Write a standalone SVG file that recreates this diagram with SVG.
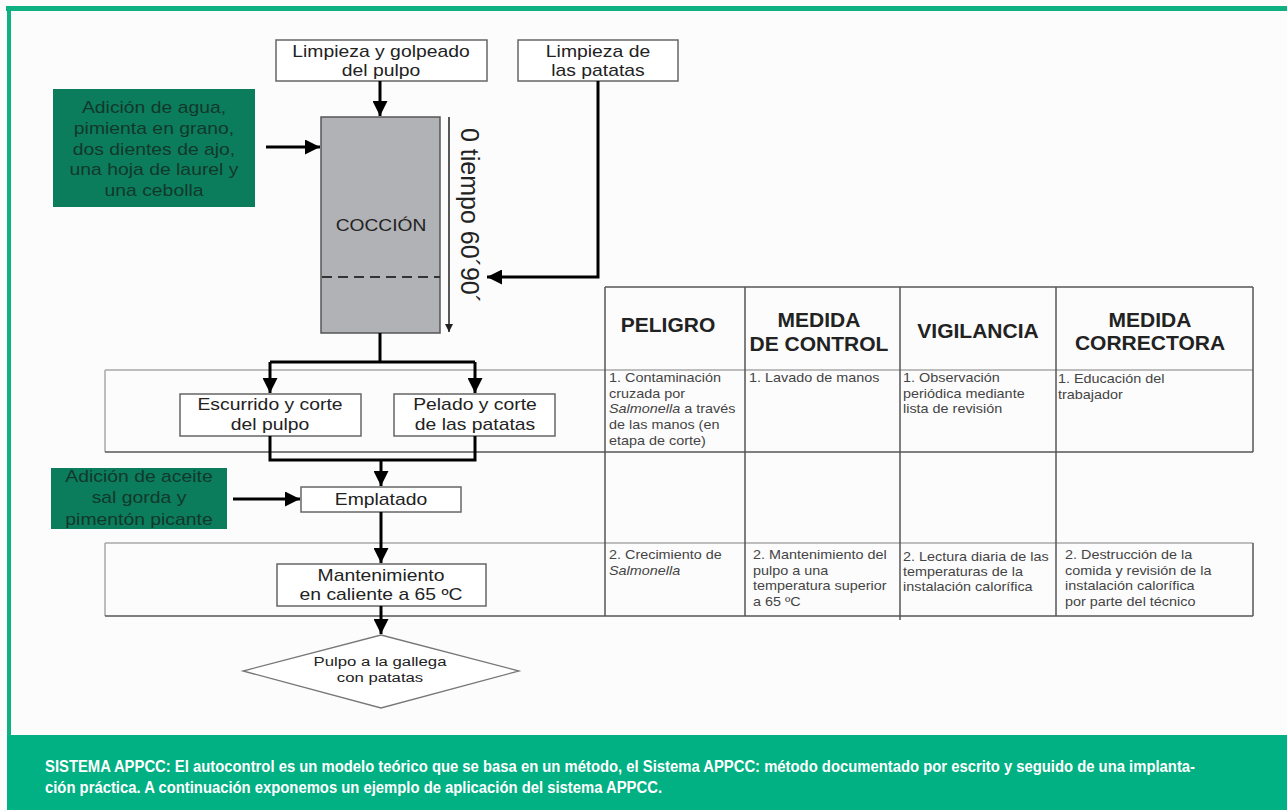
<svg xmlns="http://www.w3.org/2000/svg" width="1287" height="810" viewBox="0 0 1287 810">
<defs>
<style>
.f{font-family:"Liberation Sans",Arial,sans-serif}
.fl{font-size:16px;fill:#222;text-anchor:middle}
.gr{font-size:16px;fill:#12382b;text-anchor:middle}
.hd{font-size:21px;font-weight:bold;fill:#222;text-anchor:middle}
.bd{font-size:12px;fill:#444}
.box{fill:#fff;stroke:#666;stroke-width:1.5}
.gbox{fill:#0b7d5c}
.band{fill:none;stroke:#a8a8a8;stroke-width:1.5}
.tl{fill:none;stroke:#555;stroke-width:1.5}
.con{fill:none;stroke:#000;stroke-width:3}
.cap{font-family:"Liberation Sans Narrow","Liberation Sans",Arial,sans-serif;font-size:16px;font-weight:bold;fill:#fff}
</style>
<marker id="ah" viewBox="0 0 10 10" refX="10" refY="5" markerWidth="16" markerHeight="15" markerUnits="userSpaceOnUse" orient="auto"><path d="M0,0 L10,5 L0,10 Z" fill="#000"/></marker>
<marker id="ahs" viewBox="0 0 10 10" refX="10" refY="5" markerWidth="10" markerHeight="8" markerUnits="userSpaceOnUse" orient="auto"><path d="M0,0 L10,5 L0,10 Z" fill="#222"/></marker>
</defs>
<rect x="0" y="0" width="1287" height="810" fill="#fcfcfc"/>
<rect x="6" y="6" width="1281" height="5" fill="#0fb182"/>
<rect x="7" y="6" width="4" height="730" fill="#0fb182"/>
<rect x="7" y="735" width="1280" height="75" fill="#01b083"/>

<g id="table">
<path class="band" d="M105,370 H1253 M105,543 H1253 M105,370 V452 M105,543 V616"/>
<path class="tl" d="M605,287 H1253 M105,452 H1253 M105,616 H1253 M605,287 V616 M745,287 V616 M900,287 V620 M1056,287 V616 M1253,287 V452 M1253,543 V616"/>
<text class="f hd" x="668" y="332">PELIGRO</text>
<text class="f hd" x="819" y="327">MEDIDA</text>
<text class="f hd" x="819" y="351">DE CONTROL</text>
<text class="f hd" x="978" y="338">VIGILANCIA</text>
<text class="f hd" x="1150" y="327">MEDIDA</text>
<text class="f hd" x="1150" y="350">CORRECTORA</text>
<text class="f bd" transform="translate(609,382) scale(1.2,1)"><tspan x="0" y="0">1. Contaminación</tspan><tspan x="0" y="15.7">cruzada por</tspan><tspan x="0" y="31.4"><tspan font-style="italic">Salmonella</tspan> a través</tspan><tspan x="0" y="47.1">de las manos (en</tspan><tspan x="0" y="62.8">etapa de corte)</tspan></text>
<text class="f bd" transform="translate(749,382) scale(1.2,1)">1. Lavado de manos</text>
<text class="f bd" transform="translate(903,382) scale(1.2,1)"><tspan x="0" y="0">1. Observación</tspan><tspan x="0" y="15.7">periódica mediante</tspan><tspan x="0" y="31.4">lista de revisión</tspan></text>
<text class="f bd" transform="translate(1058,383) scale(1.2,1)"><tspan x="0" y="0">1. Educación del</tspan><tspan x="0" y="15.7">trabajador</tspan></text>
<text class="f bd" transform="translate(609,559) scale(1.2,1)"><tspan x="0" y="0">2. Crecimiento de</tspan><tspan x="0" y="15.7" font-style="italic">Salmonella</tspan></text>
<text class="f bd" transform="translate(753,559) scale(1.2,1)"><tspan x="0" y="0">2. Mantenimiento del</tspan><tspan x="0" y="15.7">pulpo a una</tspan><tspan x="0" y="31.4">temperatura superior</tspan><tspan x="0" y="47.1">a 65 ºC</tspan></text>
<text class="f bd" transform="translate(903,561) scale(1.2,1)"><tspan x="0" y="0">2. Lectura diaria de las</tspan><tspan x="0" y="15.2">temperaturas de la</tspan><tspan x="0" y="30.4">instalación calorífica</tspan></text>
<text class="f bd" transform="translate(1065,559) scale(1.2,1)"><tspan x="0" y="0">2. Destrucción de la</tspan><tspan x="0" y="15.7">comida y revisión de la</tspan><tspan x="0" y="31.4">instalación calorífica</tspan><tspan x="0" y="47.1">por parte del técnico</tspan></text>
</g>

<g id="n-limpieza-pulpo">
<rect class="box" x="276" y="40" width="211" height="41"/>
<text class="f fl" transform="translate(381,57) scale(1.21,1)"><tspan x="0" y="0">Limpieza y golpeado</tspan><tspan x="0" y="19">del pulpo</tspan></text>
</g>
<g id="n-limpieza-patatas">
<rect class="box" x="518" y="40" width="160" height="41"/>
<text class="f fl" transform="translate(598,57) scale(1.21,1)"><tspan x="0" y="0">Limpieza de</tspan><tspan x="0" y="19">las  patatas</tspan></text>
</g>
<g id="n-adicion-agua">
<rect class="gbox" x="53" y="89" width="202" height="118"/>
<text class="f gr" transform="translate(154,113) scale(1.21,1)"><tspan x="0" y="0">Adición de agua,</tspan><tspan x="0" y="20.8">pimienta en grano,</tspan><tspan x="0" y="41.6">dos dientes de ajo,</tspan><tspan x="0" y="62.4">una hoja de laurel y</tspan><tspan x="0" y="83.2">una cebolla</tspan></text>
</g>
<g id="n-coccion">
<rect x="321" y="117" width="119" height="216" fill="#b1b2b6" stroke="#555" stroke-width="1.5"/>
<line x1="322" y1="277" x2="440" y2="277" stroke="#333" stroke-width="2" stroke-dasharray="10 6"/>
<text class="f fl" fill="#333" transform="translate(381,231) scale(1.2,1)">COCCIÓN</text>
<text class="f" font-size="25" fill="#222" transform="translate(461,128) rotate(90)">0 tiempo 60´90´</text>
</g>
<g id="n-escurrido">
<rect class="box" x="180" y="394" width="181" height="42"/>
<text class="f fl" transform="translate(270,410) scale(1.21,1)"><tspan x="0" y="0">Escurrido y corte</tspan><tspan x="0" y="20">del pulpo</tspan></text>
</g>
<g id="n-pelado">
<rect class="box" x="394" y="394" width="161" height="42"/>
<text class="f fl" transform="translate(475,410) scale(1.21,1)"><tspan x="0" y="0">Pelado y corte</tspan><tspan x="0" y="20">de las patatas</tspan></text>
</g>
<g id="n-adicion-aceite">
<rect class="gbox" x="51" y="468" width="176" height="61"/>
<text class="f gr" transform="translate(139,482) scale(1.21,1)"><tspan x="0" y="0">Adición de aceite</tspan><tspan x="0" y="21.5">sal gorda y</tspan><tspan x="0" y="43">pimentón picante</tspan></text>
</g>
<g id="n-emplatado">
<rect class="box" x="301" y="487" width="160" height="25"/>
<text class="f fl" transform="translate(381,505) scale(1.21,1)">Emplatado</text>
</g>
<g id="n-mantenimiento">
<rect class="box" x="277" y="564" width="209" height="42"/>
<text class="f fl" transform="translate(381,581) scale(1.21,1)"><tspan x="0" y="0">Mantenimiento</tspan><tspan x="0" y="19">en caliente a 65 ºC</tspan></text>
</g>
<g id="n-pulpo-final">
<polygon points="381,635 519,671 381,708 243,671" fill="#fff" stroke="#777" stroke-width="1.3"/>
<text class="f fl" fill="#333" style="font-size:13.5px" transform="translate(380,666) scale(1.24,1)"><tspan x="0" y="0">Pulpo a la gallega</tspan><tspan x="0" y="16">con patatas</tspan></text>
</g>

<g id="connectors">
<path class="con" d="M380,81 V116" marker-end="url(#ah)"/>
<path class="con" d="M266,147 H320" marker-end="url(#ah)"/>
<path class="con" d="M598,81 V277 H487" marker-end="url(#ah)"/>
<path d="M449,117 V332" fill="none" stroke="#222" stroke-width="1.5" marker-end="url(#ahs)"/>
<path class="con" d="M380,333 V362 M270,362 H475"/>
<path class="con" d="M270,362 V393" marker-end="url(#ah)"/>
<path class="con" d="M475,362 V393" marker-end="url(#ah)"/>
<path class="con" d="M270,436 V460 H475 V436"/>
<path class="con" d="M381,460 V486" marker-end="url(#ah)"/>
<path class="con" d="M233,499 H300" marker-end="url(#ah)"/>
<path class="con" d="M381,512 V563" marker-end="url(#ah)"/>
<path class="con" d="M381,606 V634" marker-end="url(#ah)"/>
</g>

<g id="caption">
<text class="cap" x="45" y="772" textLength="1150" lengthAdjust="spacingAndGlyphs">SISTEMA APPCC: El autocontrol es un modelo teórico que se basa en un método, el Sistema APPCC: método documentado por escrito y seguido de una implanta-</text>
<text class="cap" x="45" y="793" textLength="617" lengthAdjust="spacingAndGlyphs">ción práctica. A continuación exponemos un ejemplo de aplicación del sistema APPCC.</text>
</g>
</svg>
